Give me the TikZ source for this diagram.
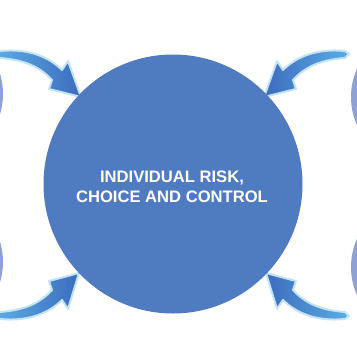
\documentclass[tikz,border=0pt]{standalone}
\usepackage{fontspec}
\setmainfont{Liberation Sans}
\definecolor{riskblue}{RGB}{79,123,192}
\definecolor{sideblue}{RGB}{142,160,214}
\definecolor{arrowlight}{RGB}{92,172,228}
\definecolor{arrowdark}{RGB}{60,108,190}
\definecolor{glowblue}{RGB}{196,228,246}
\begin{document}
\begin{tikzpicture}[x=1pt, y=-1pt,
		bigcircle/.style={circle, fill=riskblue, minimum size=259pt, inner sep=0pt},
		risktext/.style={text=white, align=center, inner sep=0pt,
			font=\bfseries\fontsize{16.6}{20}\selectfont},
		sidecircle/.style={circle, fill=sideblue, minimum size=138pt, inner sep=0pt},
		flowarrow/.style={draw=glowblue, line width=2pt, line join=round}]
		\useasboundingbox (0, 0) rectangle (356, 364);

		% side circles, mostly off the page
		\node[sidecircle] (lefttop) at (-66, 94) {};
		\node[sidecircle] (leftbottom) at (-66, 262) {};
		\node[sidecircle] (righttop) at (420, 97) {};
		\node[sidecircle] (rightbottom) at (420, 267) {};

		% curved arrows
		\shade[flowarrow, left color=arrowlight, right color=arrowdark]
			(-4, 54) -- (0, 51) .. controls (30, 48) and (50, 58) .. (62, 70) -- (68, 61) -- (81, 97)
			-- (49, 89) -- (52, 80) .. controls (40, 67) and (25, 60) .. (0, 58) -- cycle;
		\shade[flowarrow, left color=arrowdark, right color=arrowlight]
			(349, 54) -- (345, 51) .. controls (315, 48) and (295, 58) .. (283, 70) -- (277, 61) -- (264, 97)
			-- (296, 89) -- (293, 80) .. controls (305, 67) and (320, 60) .. (345, 58) -- cycle;
		\shade[flowarrow, left color=arrowlight, right color=arrowdark]
			(-4, 316) -- (0, 319) .. controls (30, 322) and (50, 312) .. (62, 300) -- (68, 309) -- (79, 273)
			-- (49, 281) -- (52, 290) .. controls (40, 303) and (25, 310) .. (0, 312) -- cycle;
		\shade[flowarrow, left color=arrowdark, right color=arrowlight]
			(349, 316) -- (345, 319) .. controls (315, 322) and (295, 312) .. (283, 300) -- (277, 309) -- (266, 273)
			-- (296, 281) -- (293, 290) .. controls (305, 303) and (320, 310) .. (345, 312) -- cycle;

		% main circle and its label
		\node[bigcircle] (risk) at (173, 184) {};
		\node[risktext] (risklabel) at (172, 187) {INDIVIDUAL RISK,\\CHOICE AND CONTROL};
	\end{tikzpicture}
\end{document}
